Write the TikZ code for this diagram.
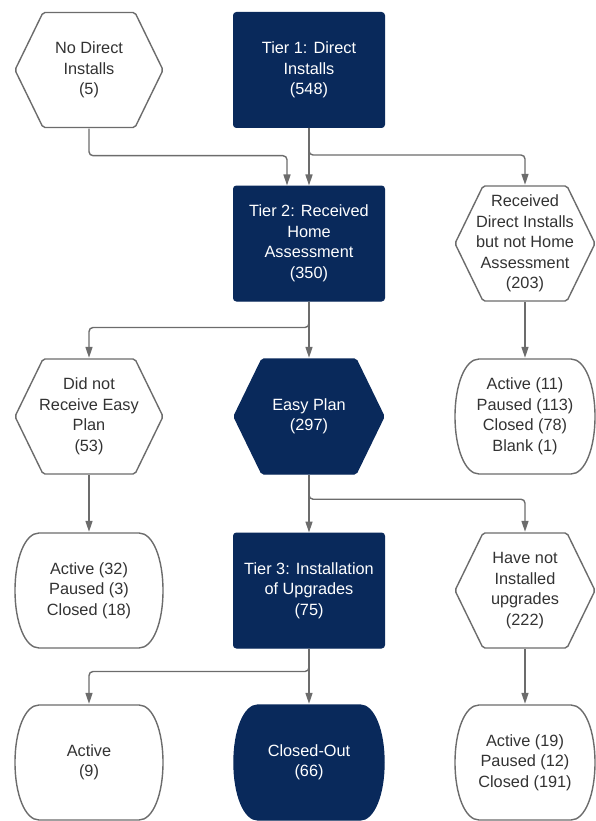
\documentclass[tikz,border=0pt]{standalone}
\usepackage{fontspec}
\setmainfont{Liberation Sans}
\usetikzlibrary{arrows.meta, positioning}
\definecolor{cNavy}{RGB}{9,41,91}
\definecolor{cLine}{RGB}{108,108,108}
\definecolor{cText}{RGB}{51,51,51}
\tikzset{
	tier/.style   ={rectangle, rounded corners=3pt, minimum width=151pt, minimum height=115pt, align=center, draw=cNavy, fill=cNavy, text=white, line width=1pt},
	% hexagon and oval outlines are drawn inside a plain box
	hexa/.style   ={rectangle, minimum width=150pt, minimum height=117pt, inner sep=0pt, align=center, fill=white, text=cText,
		path picture={\draw[line width=1.4pt, rounded corners=2pt, #1]
			([xshift=1pt]path picture bounding box.west)
			-- ([xshift=29pt, yshift=-1pt]path picture bounding box.north west)
			-- ([xshift=-29pt, yshift=-1pt]path picture bounding box.north east)
			-- ([xshift=-1pt]path picture bounding box.east)
			-- ([xshift=-29pt, yshift=1pt]path picture bounding box.south east)
			-- ([xshift=29pt, yshift=1pt]path picture bounding box.south west)
			-- cycle;}},
	hexa/.default ={draw=cLine, fill=white},
	oval/.style   ={rectangle, minimum width=150pt, minimum height=117pt, inner sep=0pt, align=center, fill=white, text=cText,
		path picture={\draw[line width=1.4pt, #1]
			([xshift=25pt, yshift=-1pt]path picture bounding box.north west)
			-- ([xshift=-25pt, yshift=-1pt]path picture bounding box.north east)
			.. controls +(14pt,0pt) and +(0pt,32pt) .. ([xshift=-1pt]path picture bounding box.east)
			.. controls +(0pt,-32pt) and +(14pt,0pt) .. ([xshift=-25pt, yshift=1pt]path picture bounding box.south east)
			-- ([xshift=25pt, yshift=1pt]path picture bounding box.south west)
			.. controls +(-14pt,0pt) and +(0pt,-32pt) .. ([xshift=1pt]path picture bounding box.west)
			.. controls +(0pt,32pt) and +(-14pt,0pt) .. ([xshift=25pt, yshift=-1pt]path picture bounding box.north west)
			-- cycle;}},
	oval/.default ={draw=cLine, fill=white},
	flow/.style   ={-{Triangle[length=11pt, width=7pt]}, line width=1.4pt, draw=cLine, rounded corners=4pt},
}

\begin{document}
\begin{tikzpicture}[x=1pt, y=1pt, font=\fontsize{16.3}{20.5}\selectfont]
	\useasboundingbox (0,0) rectangle (595,-821);
	% row 1
	\node[hexa] (nodi) at (89,-70) {No Direct\\ Installs\\ (5)};
	\node[tier] (tier1) at (309,-70) {Tier 1: Direct\\ Installs\\ (548)};
	% row 2
	\node[tier] (tier2) at (309,-243.5) {Tier 2: Received\\ Home\\ Assessment\\ (350)};
	\node[hexa, minimum width=142pt] (rdi) at (525,-243.5) {Received\\ Direct Installs\\ but not Home\\ Assessment\\ (203)};
	% row 3
	\node[hexa] (noeasy) at (89,-416.5) {Did not\\ Receive Easy\\ Plan\\ (53)};
	\node[hexa={draw=cNavy, fill=cNavy}, minimum width=152pt, text=white] (easy) at (309,-416.5) {Easy Plan\\ (297)};
	\node[oval, minimum width=142pt] (act11) at (525,-416.5) {Active (11)\\ Paused (113)\\ Closed (78)\\ Blank (1)};
	% row 4
	\node[oval] (act32) at (89,-590.5) {Active (32)\\ Paused (3)\\ Closed (18)};
	\node[tier] (tier3) at (309,-590.5) {Tier 3: Installation\\ of Upgrades\\ (75)};
	\node[hexa, minimum width=142pt] (notinst) at (525,-590.5) {Have not\\ Installed\\ upgrades\\ (222)};
	% row 5
	\node[oval] (act9) at (89,-762.5) {Active\\ (9)};
	\node[oval={draw=cNavy, fill=cNavy}, minimum width=152pt, text=white] (closed) at (309,-762.5) {Closed-Out\\ (66)};
	\node[oval, minimum width=142pt] (act19) at (525,-762.5) {Active (19)\\ Paused (12)\\ Closed (191)};

	\draw[flow] (nodi.south) -- ++(0,-27) -| ([xshift=-22pt]tier2.north);
	\draw[flow] (tier1) -- (tier2);
	\draw[flow] (tier1.south) -- ++(0,-27) -| (rdi.north);
	\draw[flow] (rdi) -- (act11);
	\draw[flow] (tier2.south) -- ++(0,-26) -| (noeasy.north);
	\draw[flow] (tier2) -- (easy);
	\draw[flow] (noeasy) -- (act32);
	\draw[flow] (easy) -- (tier3);
	\draw[flow] (easy.south) -- ++(0,-24) -| (notinst.north);
	\draw[flow] (notinst) -- (act19);
	\draw[flow] (tier3) -- (closed);
	\draw[flow] (tier3.south) -- ++(0,-23) -| (act9.north);
\end{tikzpicture}
\end{document}
